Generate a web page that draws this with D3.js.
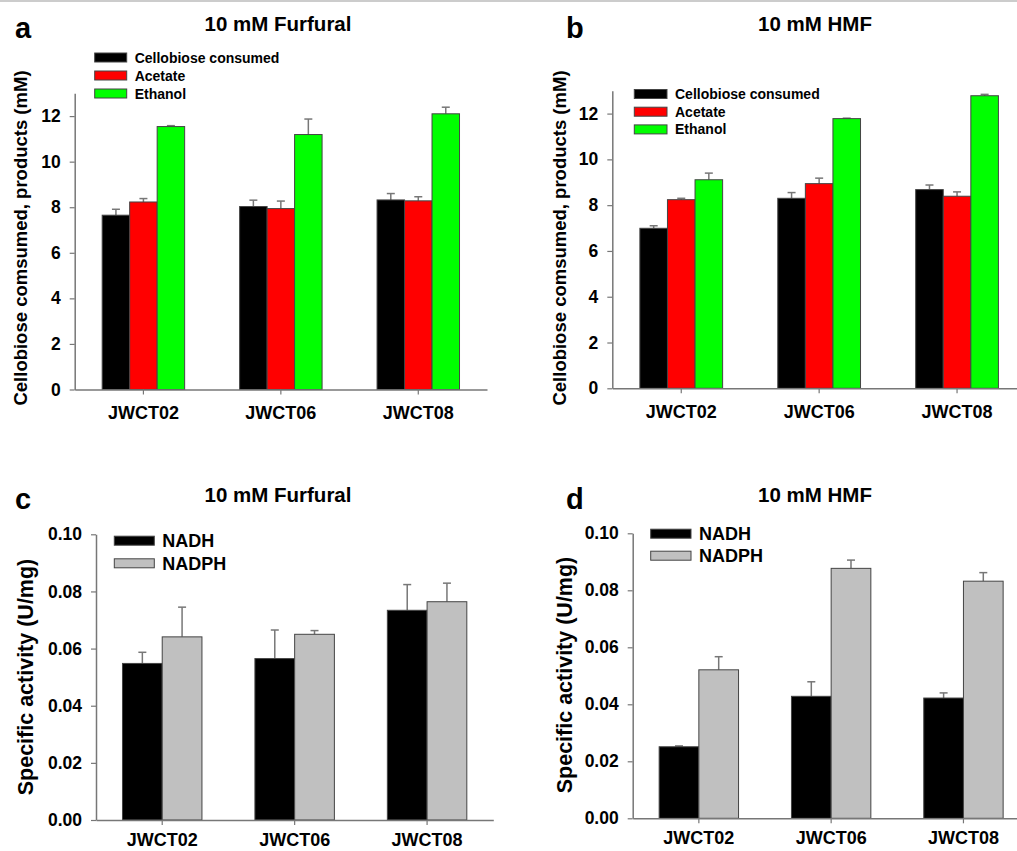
<!DOCTYPE html>
<html>
<head>
<meta charset="utf-8">
<script src="https://cdn.jsdelivr.net/npm/d3@7"></script>
<style>
  body { margin: 0; background: #fff; }
  svg { display: block; font-family: "Liberation Sans", Arial, sans-serif; font-weight: bold; }
</style>
</head>
<body>
<div id="chart"></div>
<script>
// strains on the x axis
const strains = ["JWCT02", "JWCT06", "JWCT08"];

// fermentation products (mM)
const productSeries = ["Cellobiose consumed", "Acetate", "Ethanol"];
const productColors = ["#000000", "#ff0000", "#00ff00"];
const productTicks = [0, 2, 4, 6, 8, 10, 12];

const furfuralCellobiose = [7.65, 8.03, 8.32];
const furfuralCellobioseErr = [0.26, 0.28, 0.28];
const furfuralAcetate = [8.23, 7.94, 8.28];
const furfuralAcetateErr = [0.15, 0.33, 0.18];
const furfuralEthanol = [11.54, 11.19, 12.10];
const furfuralEthanolErr = [0.04, 0.68, 0.29];

const hmfCellobiose = [6.99, 8.30, 8.68];
const hmfCellobioseErr = [0.11, 0.25, 0.20];
const hmfAcetate = [8.24, 8.94, 8.39];
const hmfAcetateErr = [0.06, 0.24, 0.19];
const hmfEthanol = [9.11, 11.78, 12.78];
const hmfEthanolErr = [0.29, 0.02, 0.06];

// specific activity (U/mg)
const cofactorSeries = ["NADH", "NADPH"];
const cofactorColors = ["#000000", "#c0c0c0"];
const activityTicks = [0, 0.02, 0.04, 0.06, 0.08, 0.10];

const furfuralNADH = [0.0548, 0.0565, 0.0734];
const furfuralNADHErr = [0.0039, 0.0100, 0.0090];
const furfuralNADPH = [0.0641, 0.0650, 0.0764];
const furfuralNADPHErr = [0.0104, 0.0013, 0.0065];

const hmfNADH = [0.0251, 0.0428, 0.0422];
const hmfNADHErr = [0.0003, 0.0051, 0.0018];
const hmfNADPH = [0.0521, 0.0877, 0.0832];
const hmfNADPHErr = [0.0046, 0.0029, 0.0030];

const W = 1017, H = 851;
const svg = d3.select("#chart").append("svg").attr("width", W).attr("height", H);

// thin grey rule at the very top
svg.append("line").attr("x1", 0).attr("x2", W).attr("y1", 1).attr("y2", 1)
  .attr("stroke", "#cccccc").attr("stroke-width", 2);

function drawPanel(p) {
  const g = svg.append("g");

  const x = d3.scaleBand().domain(strains).range([p.x0, p.x1]).padding(0);
  const inner = d3.scaleBand().domain(d3.range(p.series.length))
    .range([0, x.bandwidth() * 0.6]);
  const y = d3.scaleLinear().domain([0, p.yMax]).range([p.yBase, p.yTop]);

  // bars + error bars (upper side only, drawn before the bar outline)
  p.series.forEach((name, s) => {
    const grp = g.append("g");
    const rows = strains.map((k, i) => ({ k, v: p.values[s][i], e: p.errors[s][i] }));
    const bx = d => x(d.k) + x.bandwidth() * 0.2 + inner(s);

    grp.selectAll("line.err").data(rows).join("line")
      .attr("x1", d => bx(d) + inner.bandwidth() / 2)
      .attr("x2", d => bx(d) + inner.bandwidth() / 2)
      .attr("y1", d => y(d.v)).attr("y2", d => y(d.v + d.e))
      .attr("stroke", "#777").attr("stroke-width", 1.5);
    grp.selectAll("line.cap").data(rows).join("line")
      .attr("x1", d => bx(d) + inner.bandwidth() / 2 - 4)
      .attr("x2", d => bx(d) + inner.bandwidth() / 2 + 4)
      .attr("y1", d => y(d.v + d.e)).attr("y2", d => y(d.v + d.e))
      .attr("stroke", "#777").attr("stroke-width", 1.5);

    grp.selectAll("rect").data(rows).join("rect")
      .attr("x", d => bx(d))
      .attr("y", d => y(d.v))
      .attr("width", inner.bandwidth())
      .attr("height", d => y(0) - y(d.v))
      .attr("fill", p.colors[s])
      .attr("stroke", "#444").attr("stroke-width", 1);
  });

  // y axis
  const yAxis = g.append("g").attr("transform", `translate(${p.x0},0)`)
    .call(d3.axisLeft(y).tickValues(p.ticks).tickFormat(p.fmt)
      .tickSize(5).tickSizeOuter(0).tickPadding(p.tickPad));
  yAxis.select(".domain").attr("stroke", "#777").attr("stroke-width", 1.5);
  yAxis.selectAll(".tick line").attr("stroke", "#777").attr("stroke-width", 1.2);
  yAxis.selectAll("text").attr("fill", "#000").style("font-size", p.tickFont + "px")
    .style("font-family", "Liberation Sans, Arial, sans-serif").style("font-weight", "bold");

  // x axis
  const xAxis = g.append("g").attr("transform", `translate(0,${p.yBase})`)
    .call(d3.axisBottom(x).tickSize(5).tickSizeOuter(0).tickPadding(p.xPad));
  xAxis.select(".domain").attr("stroke", "#777").attr("stroke-width", 1.5);
  xAxis.selectAll(".tick line").attr("stroke", "#777").attr("stroke-width", 1.2);
  xAxis.selectAll("text").attr("fill", "#000").style("font-size", "18px")
    .style("font-family", "Liberation Sans, Arial, sans-serif").style("font-weight", "bold");

  // y label
  g.append("text")
    .attr("transform", `translate(${p.labelX},${p.labelY}) rotate(-90)`)
    .attr("text-anchor", "middle")
    .style("font-size", p.labelFont + "px")
    .text(p.yLabel);

  // title and panel letter
  g.append("text").attr("x", p.titleX).attr("y", p.titleY)
    .attr("text-anchor", "middle").style("font-size", "20.5px").text(p.title);
  g.append("text").attr("x", p.letterX).attr("y", p.titleY + 7)
    .style("font-size", "29px").text(p.letter);

  // legend
  const lg = g.append("g");
  p.series.forEach((name, s) => {
    const cy = p.legY + s * p.legStep;
    lg.append("rect").attr("x", p.legX).attr("y", cy - 4.5)
      .attr("width", p.legW).attr("height", 9)
      .attr("fill", p.colors[s]).attr("stroke", "#444").attr("stroke-width", 1);
    lg.append("text").attr("x", p.legX + p.legW + 8).attr("y", cy + p.legFont * 0.36)
      .style("font-size", p.legFont + "px").text(name);
  });
}

const fmt0 = d3.format("d");
const fmt2 = d3.format(".2f");

drawPanel({
  x0: 74.7, x1: 487, yBase: 389.5, yTop: 93.3, yMax: 13,
  series: productSeries, colors: productColors, ticks: productTicks, fmt: fmt0,
  values: [furfuralCellobiose, furfuralAcetate, furfuralEthanol],
  errors: [furfuralCellobioseErr, furfuralAcetateErr, furfuralEthanolErr],
  tickFont: 17.5, tickPad: 9, xPad: 12,
  yLabel: "Cellobiose comsumed, products (mM)", labelX: 27, labelY: 238, labelFont: 18.5,
  title: "10 mM Furfural", titleX: 278, titleY: 31, letter: "a", letterX: 15,
  legX: 94.7, legY: 57.5, legStep: 18, legW: 32, legFont: 14
});

drawPanel({
  x0: 612.3, x1: 1026, yBase: 388.3, yTop: 90.7, yMax: 13,
  series: productSeries, colors: productColors, ticks: productTicks, fmt: fmt0,
  values: [hmfCellobiose, hmfAcetate, hmfEthanol],
  errors: [hmfCellobioseErr, hmfAcetateErr, hmfEthanolErr],
  tickFont: 17.5, tickPad: 9, xPad: 12,
  yLabel: "Cellobiose comsumed, products (mM)", labelX: 566, labelY: 238, labelFont: 18.5,
  title: "10 mM HMF", titleX: 815, titleY: 31, letter: "b", letterX: 566,
  legX: 634.3, legY: 94, legStep: 17.7, legW: 32.7, legFont: 14
});

drawPanel({
  x0: 96, x1: 493.3, yBase: 820, yTop: 534.3, yMax: 0.1,
  series: cofactorSeries, colors: cofactorColors, ticks: activityTicks, fmt: fmt2,
  values: [furfuralNADH, furfuralNADPH],
  errors: [furfuralNADHErr, furfuralNADPHErr],
  tickFont: 17.5, tickPad: 9, xPad: 8,
  yLabel: "Specific activity (U/mg)", labelX: 33, labelY: 677, labelFont: 21.5,
  title: "10 mM Furfural", titleX: 278, titleY: 502, letter: "c", letterX: 15,
  legX: 114.3, legY: 540.7, legStep: 22.6, legW: 40, legFont: 18
});

drawPanel({
  x0: 632.7, x1: 1029.6, yBase: 818.3, yTop: 533.3, yMax: 0.1,
  series: cofactorSeries, colors: cofactorColors, ticks: activityTicks, fmt: fmt2,
  values: [hmfNADH, hmfNADPH],
  errors: [hmfNADHErr, hmfNADPHErr],
  tickFont: 17.5, tickPad: 9, xPad: 8,
  yLabel: "Specific activity (U/mg)", labelX: 572, labelY: 675, labelFont: 21.5,
  title: "10 mM HMF", titleX: 815, titleY: 502, letter: "d", letterX: 566,
  legX: 650.7, legY: 533.7, legStep: 22, legW: 40.3, legFont: 18
});
</script>
</body>
</html>
